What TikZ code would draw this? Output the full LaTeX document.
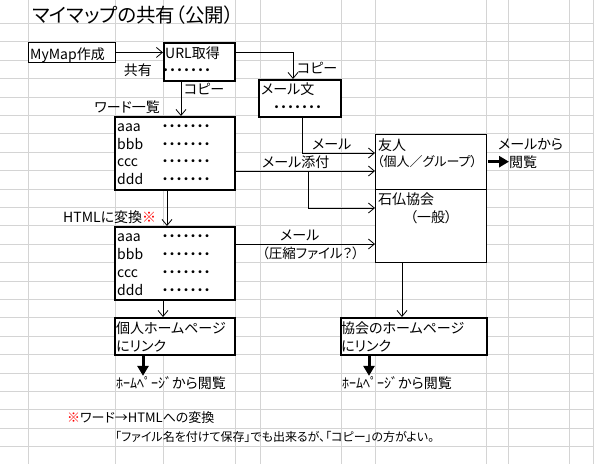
\documentclass[tikz,border=0pt]{standalone}
\usepackage{fontspec}
\setmainfont{Noto Sans CJK JP}[RawFeature=+palt]
\newfontfamily\hwfont{Noto Sans CJK JP}
\usepackage{tikz}
\usetikzlibrary{arrows.meta,positioning,calc}
\definecolor{gridgray}{RGB}{212,212,212}
\definecolor{markred}{RGB}{255,0,0}
\newcommand{\pdot}{\makebox[7pt]{・}}

\begin{document}
\begin{tikzpicture}[x=1pt, y=-1pt, every node/.style={font=\fontsize{14}{18}\selectfont, inner sep=0pt}, gridline/.style={draw=gridgray, line width=0.8pt}, thinbox/.style={draw, line width=0.9pt, fill=white, anchor=north west}, thickbox/.style={draw, line width=2.2pt, fill=white, anchor=north west}, lbl/.style={anchor=base west}, rlbl/.style={anchor=base east}, arr/.style={-{Straight Barb[length=6pt,width=10pt]}, line width=0.8pt}, bigarr/.style={-{Triangle[length=10pt,width=11pt]}, line width=3pt}]
\fill[white] (0,0) rectangle (594,464);
\useasboundingbox (0,0) rectangle (594,464);
% sheet grid
\foreach \gx in {28.7,115,163,235,260,341,375,486,508,569,593}
  \draw[gridline] (\gx,0) -- (\gx,464);
\foreach \gk in {0,...,23}
  \draw[gridline] (0,23.3+18.4*\gk) -- (594,23.3+18.4*\gk);
% title
\node[lbl, font=\fontsize{19.5}{22}\selectfont] (title) at (32,22) {マイマップの共有（公開）};
% boxes
\node[thinbox, minimum width=87pt, minimum height=20pt] (mymap) at (28,42) {};
\node[thickbox, minimum width=71pt, minimum height=38pt] (url) at (163,42) {};
\node[thickbox, minimum width=82pt, minimum height=37pt] (mailtext) at (258,79) {};
\node[thickbox, minimum width=120pt, minimum height=73pt] (wordlist) at (114,116) {};
\node[thickbox, minimum width=120pt, minimum height=73pt] (html) at (114,226) {};
\node[thinbox, minimum width=111pt, minimum height=55pt] (friend) at (375,134) {};
\node[thinbox, minimum width=111pt, minimum height=73pt] (kyokai) at (375,189) {};
\node[thickbox, minimum width=120pt, minimum height=37pt] (kojinhp) at (114,317) {};
\node[thickbox, minimum width=146pt, minimum height=37pt] (kyokaihp) at (340,317) {};
% texts
\node[lbl] (mymaptxt) at (30,59) {MyMap作成};
\node[lbl] (urltxt) at (165,58) {URL取得};
\node[lbl] (urldots) at (162,75) {\pdot\pdot\pdot\pdot\pdot\pdot\pdot};
\node[rlbl] (share) at (152,75) {共有};
\node[lbl] (copya) at (184,94) {コピー};
\node[rlbl] (wordtitle) at (160,112) {ワード一覧};
\node[lbl] (copyb) at (297,73) {コピー};
\node[lbl] (mailtxt) at (261,94) {メール文};
\node[lbl] (maildots) at (273,112) {\pdot\pdot\pdot\pdot\pdot\pdot\pdot};
\node[lbl] (wa) at (117,131.5) {aaa};
\node[lbl] (wb) at (117,149) {bbb};
\node[lbl] (wc) at (117,166.5) {ccc};
\node[lbl] (wd) at (117,184) {ddd};
\node[lbl] (wadots) at (161.5,131.5) {\pdot\pdot\pdot\pdot\pdot\pdot\pdot};
\node[lbl] (wbdots) at (161.5,149) {\pdot\pdot\pdot\pdot\pdot\pdot\pdot};
\node[lbl] (wcdots) at (161.5,166.5) {\pdot\pdot\pdot\pdot\pdot\pdot\pdot};
\node[lbl] (wddots) at (161.5,184) {\pdot\pdot\pdot\pdot\pdot\pdot\pdot};
\node[lbl] (htmltitle) at (63,222.5) {HTMLに変換\textcolor{markred}{※}};
\node[lbl] (ha) at (117,241.5) {aaa};
\node[lbl] (hb) at (117,259.5) {bbb};
\node[lbl] (hc) at (117,277.5) {ccc};
\node[lbl] (hd) at (117,295.5) {ddd};
\node[lbl] (hadots) at (161.5,241.5) {\pdot\pdot\pdot\pdot\pdot\pdot\pdot};
\node[lbl] (hbdots) at (161.5,259.5) {\pdot\pdot\pdot\pdot\pdot\pdot\pdot};
\node[lbl] (hcdots) at (161.5,277.5) {\pdot\pdot\pdot\pdot\pdot\pdot\pdot};
\node[lbl] (hddots) at (161.5,295.5) {\pdot\pdot\pdot\pdot\pdot\pdot\pdot};
\node[lbl] (mailup) at (312,149) {メール};
\node[lbl] (attach) at (262,167) {メール添付};
\node[lbl] (friendtxt) at (378,150) {友人};
\node[lbl, font=\fontsize{13}{18}\selectfont] (friendsub) at (377,166) {（個人／グループ）};
\node[lbl] (frommail) at (498,149) {メールから};
\node[lbl] (view) at (509,167) {閲覧};
\node[lbl] (kyokaitxt) at (378,204) {石仏協会};
\node[lbl] (kyokaisub) at (410,222) {（一般）};
\node[lbl] (maillow) at (280,240) {メール};
\node[lbl, font=\fontsize{13.5}{18}\selectfont] (zip) at (262,258) {（圧縮ファイル？）};
\node[lbl] (kojintxt) at (116,333) {個人ホームページ};
\node[lbl] (kojinlink) at (116,351) {にリンク};
\node[lbl] (kyokaihptxt) at (341,333) {協会のホームページ};
\node[lbl] (kyokailink) at (341,351) {にリンク};
\node[lbl] (kojinview) at (116,388) {{\hwfont ﾎｰﾑﾍﾟｰｼﾞ}から閲覧};
\node[lbl] (kyokaiview) at (342,388) {{\hwfont ﾎｰﾑﾍﾟｰｼﾞ}から閲覧};
\node[lbl, font=\fontsize{13}{18}\selectfont] (notehead) at (67,422.5) {\textcolor{markred}{※}ワード→HTMLへの変換};
\node[lbl, font=\fontsize{12}{18}\selectfont] (notebody) at (115,441.5) {「ファイル名を付けて保存」でも出来るが、「コピー」の方がよい。};
% connectors
\draw[arr] (mymap.east) -- (mymap.east -| url.west);
\draw[arr] ($(url.north east)+(0,10)$) -| ($(mailtext.north west)+(35,0)$);
\draw[arr] ($(url.south west)+(18,0)$) -- ($(wordlist.north west)+(67,0)$);
\draw[arr] ($(wordlist.south west)+(53,0)$) -- ($(html.north west)+(53,0)$);
\draw[arr] ($(mailtext.south west)+(44,0)$) |- ($(friend.north west)+(0,19)$);
\draw[arr] ($(wordlist.north east)+(0,55)$) -- ($(friend.north west)+(0,37)$);
\draw[arr] ($(wordlist.north east)+(72,55)$) |- ($(kyokai.north west)+(0,19)$);
\draw[arr] ($(html.north east)+(0,18)$) -- ($(kyokai.north west)+(0,55)$);
\draw[arr] ($(html.south west)+(49,0)$) -- ($(kojinhp.north west)+(49,0)$);
\draw[arr] ($(kyokai.south west)+(27,0)$) -- ($(kyokaihp.north west)+(62,0)$);
\draw[bigarr] ($(kojinhp.south west)+(29,0)$) coordinate (kd) -- (kd |- kojinview.north);
\draw[bigarr] ($(kyokaihp.south west)+(29,0)$) coordinate (hd) -- (hd |- kyokaiview.north);
\draw[bigarr] ($(friend.east |- view)+(1,0)$) -- (view.west);
\end{tikzpicture}
\end{document}
